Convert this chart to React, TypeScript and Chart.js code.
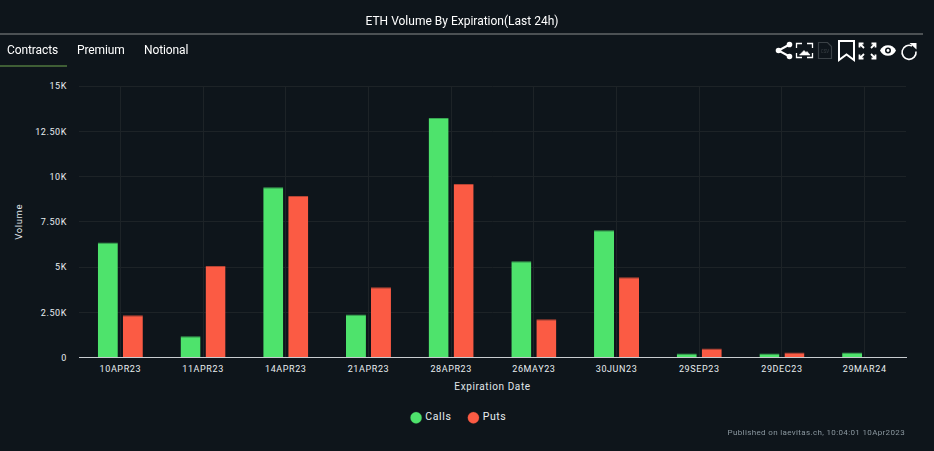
import React, { useEffect, useRef } from "react";
import { Chart, registerables } from "chart.js";

Chart.register(...registerables);

const categories = ["10APR23", "11APR23", "14APR23", "21APR23", "28APR23", "26MAY23", "30JUN23", "29SEP23", "29DEC23", "29MAR24"];
const calls = [6350, 1170, 9400, 2380, 13230, 5320, 7030, 220, 220, 270];
const puts = [2330, 5050, 8920, 3880, 9580, 2110, 4440, 500, 280, null];
const tickFont = "Roboto";

function fmt(v: number) {
  if (v === 0) return "0";
  const k = v / 1000;
  return (Number.isInteger(k) ? String(k) : k.toFixed(2)) + "K";
}

const spacing = {
  id: "spacing",
  afterLayout(chart: any) {
    chart.legend.left -= 3.5;
    chart.legend.right -= 3.5;
  },
  beforeDraw(chart: any) {
    const c = chart.ctx;
    c.letterSpacing = "0.6px";
    c.save();
    c.fillStyle = "#0e151b";
    c.fillRect(0, 0, chart.width, chart.height);
    c.restore();
  },
};

const Icons = () => (
  <svg width="150" height="26" viewBox="0 0 150 26" style={{ position: "absolute", left: 775, top: 38 }} fill="none">
    <g fill="#fff" stroke="#fff" strokeWidth="2">
      <circle cx="14.5" cy="6.5" r="1.8" />
      <circle cx="3.5" cy="12.5" r="1.8" />
      <circle cx="14.5" cy="18.5" r="1.8" />
      <path d="M14.5 6.5 L3.5 12.5 L14.5 18.5" fill="none" />
    </g>
    <g stroke="#fff" strokeWidth="1.3">
      <path d="M21.5 10V5.5H27M32 5.5H37.5V10M37.5 15V19.5H32M27 19.5H21.5V15" />
      <path d="M24.5 17L29 12.5L31 14.5L32 13.5L35 17Z" fill="#fff" strokeWidth="0.6" />
    </g>
    <path d="M43.5 4.5H52.5L56.5 8.5V20.5H43.5Z" stroke="#3a4146" strokeWidth="1.2" />
    <text x="50" y="15" textAnchor="middle" fontFamily="Roboto" fontSize="4.5" fill="#3a4146">CSV</text>
    <path d="M64 3H79V22L71.5 16.5L64 22Z" stroke="#fff" strokeWidth="2" />
    <path d="M84.5 9.5V5.5H88.5M84.5 5.5L89 10M96.5 5.5H100.5V9.5M100.5 5.5L96 10M84.5 16.5V20.5H88.5M84.5 20.5L89 16M100.5 16.5V20.5H96.5M100.5 20.5L96 16" stroke="#fff" strokeWidth="1.8" />
    <path d="M105 12.5C108 5.5 118 5.5 121 12.5C118 19.5 108 19.5 105 12.5Z" fill="#fff" />
    <circle cx="113" cy="12.5" r="3" fill="#0e151b" />
    <circle cx="113" cy="12.5" r="1.4" fill="#fff" />
    <path d="M137 8A7 7 0 1 0 141 13.5" stroke="#fff" strokeWidth="1.6" />
    <path d="M134.5 5L141.5 5L141.5 11.5Z" fill="#fff" />
  </svg>
);

export default function App() {
  const ref = useRef<HTMLCanvasElement>(null);
  useEffect(() => {
    ref.current!.getContext("2d", { alpha: false });
    const chart = new Chart(ref.current!, {
      type: "bar",
      data: {
        labels: categories,
        datasets: [
          { label: "Calls", data: calls, backgroundColor: "#4ee36c", borderColor: "#3aa854", borderWidth: { top: 1 } as any },
          { label: "Puts", data: puts as any, backgroundColor: "#fb5b44", borderColor: "#b64434", borderWidth: { top: 1 } as any },
        ],
      },
      options: {
        animation: false,
        responsive: false,
        devicePixelRatio: 1,
        layout: { padding: { left: 14, right: 28, top: 86, bottom: 18 } },
        datasets: { bar: { categoryPercentage: 0.605, barPercentage: 0.8 } },
        scales: {
          x: {
            grid: { offset: false, color: "#1d2327", drawTicks: false },
            border: { color: "#c8ccd0", width: 1 },
            ticks: { color: "#e8edf0", font: { family: tickFont, size: 9 }, padding: 7, maxRotation: 0, autoSkip: false },
            title: { display: true, text: "Expiration Date", color: "#e0e6ea", font: { family: tickFont, size: 10 }, padding: { top: 4, bottom: 1 } },
            afterFit: (s: any) => { s.height = 37; },
          },
          y: {
            min: 0,
            max: 15000,
            afterBuildTicks: (s: any) => { s.ticks = [0, 2500, 5000, 7500, 10000, 12500, 15000].map((value) => ({ value })); },
            grid: { color: "#1d2327", drawTicks: false },
            border: { display: false },
            ticks: { color: "#e8edf0", font: { family: tickFont, size: 9 }, padding: 12, labelOffset: 1, callback: (v: any) => fmt(Number(v)) },
            title: { display: true, text: "Volume", color: "#e0e6ea", font: { family: tickFont, size: 9.5 }, padding: 0 },
            afterFit: (s: any) => { s.width = 65; },
          },
        },
        plugins: {
          legend: {
            position: "bottom",
            labels: { usePointStyle: true, pointStyle: "circle", boxHeight: 8, boxWidth: 8, color: "#e8edf0", font: { family: tickFont, size: 10.5 }, padding: 18 },
          },
          tooltip: { enabled: false },
        },
      },
      plugins: [spacing],
    } as any);
    return () => chart.destroy();
  }, []);

  const tab: React.CSSProperties = { position: "absolute", top: 43, fontFamily: "Roboto", fontSize: 12, letterSpacing: "-0.1px", color: "#fff", whiteSpace: "nowrap", lineHeight: "15px" };
  return (
    <div style={{ position: "fixed", left: 0, top: 0, width: 934, height: 451, background: "#0e151b", overflow: "hidden" }}>
      <canvas ref={ref} width={934} height={451} style={{ position: "absolute", left: 0, top: 0, width: 934, height: 451 }} />
      <div style={{ position: "absolute", left: 0, width: 924, top: 14, textAlign: "center", fontFamily: "Roboto", fontSize: 12, color: "#fff", lineHeight: "15px" }}>ETH Volume By Expiration(Last 24h)</div>
      <div style={{ position: "absolute", left: 0, top: 33, width: 923, height: 2, background: "#4c5154" }} />
      <div style={{ ...tab, left: 7 }}>Contracts</div>
      <div style={{ ...tab, left: 77 }}>Premium</div>
      <div style={{ ...tab, left: 144 }}>Notional</div>
      <div style={{ position: "absolute", left: 0, top: 65, width: 67, height: 2, background: "#3f5e35" }} />
      <Icons />
      <div style={{ position: "absolute", right: 29, top: 427, fontFamily: "Roboto", fontSize: 8, letterSpacing: "0.35px", color: "#8a979f", lineHeight: "12px", whiteSpace: "nowrap" }}>Published on laevitas.ch, 10:04:01 10Apr2023</div>
    </div>
  );
}
